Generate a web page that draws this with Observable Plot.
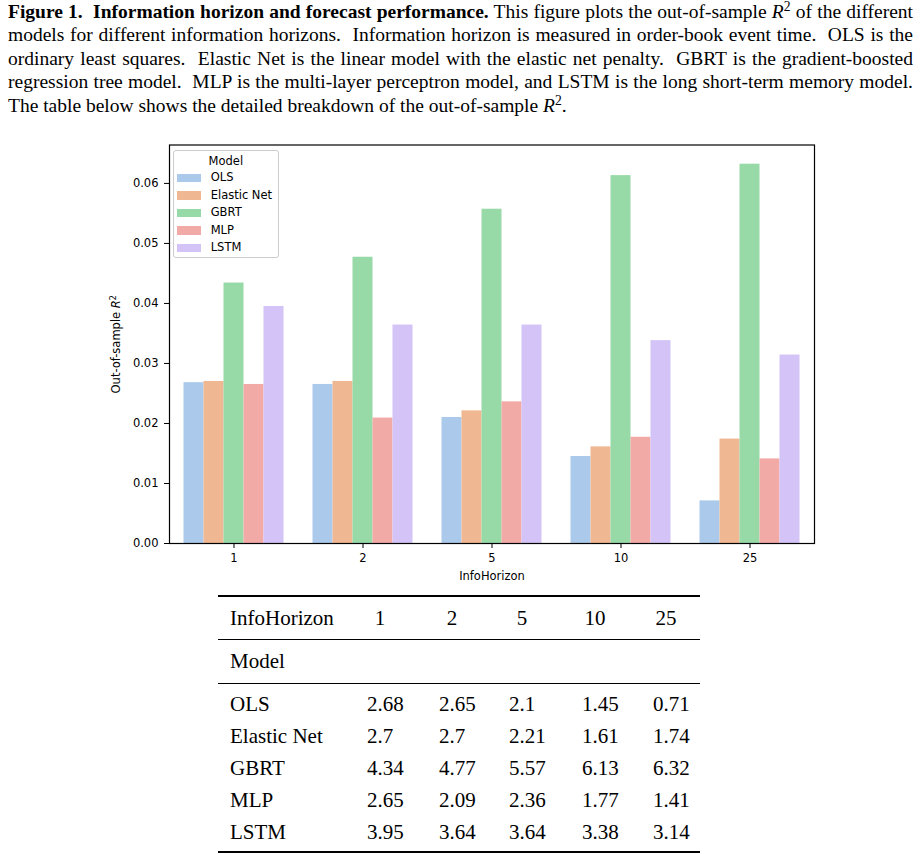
<!DOCTYPE html>
<html>
<head>
<meta charset="utf-8">
<script src="https://cdn.jsdelivr.net/npm/d3@7"></script>
<script src="https://cdn.jsdelivr.net/npm/@observablehq/plot@0.6"></script>
<style>
  html, body { margin: 0; padding: 0; background: #fff; }
  body { width: 923px; height: 854px; position: relative; overflow: hidden; color: #000; }
  #caption { position: absolute; left: 8px; top: 0px; width: 905px;
    font-family: "Liberation Serif", "Times New Roman", serif; font-size: 19.5px; line-height: 23.4px; }
  #caption .ln { text-align: justify; text-align-last: justify; white-space: normal; }
  #caption .ln.last { text-align-last: left; }
  #chart { position: absolute; left: 0; top: 130px; }
  #legend { position: absolute; left: 172.7px; top: 150px; width: 104.3px; height: 106px;
    border: 1px solid #cccccc; border-radius: 3px; background: rgba(255,255,255,0.8);
    font-family: "DejaVu Sans", sans-serif; font-size: 11.5px; }
  #legend .title { position: absolute; left: 0; width: 100%; top: 1.5px; height: 17.5px; line-height: 17.5px; text-align: center; }
  #legend .row { position: absolute; left: 0; width: 100%; height: 17.5px; line-height: 17.5px; }
  #legend .sw { position: absolute; left: 3.3px; top: 4.5px; width: 23.7px; height: 8.5px; }
  #legend .lab { position: absolute; left: 37px; top: 0; white-space: nowrap; }
  #tbl { position: absolute; left: 218px; top: 595px; width: 482px;
    font-family: "Liberation Serif", "Times New Roman", serif; font-size: 21px; }
  #tbl .rule { background: #000; width: 100%; }
  #tbl .row { display: flex; width: 100%; }
  #tbl .cell { flex: none; white-space: nowrap; }
  #tbl .hdr { display: inline-block; width: 26px; text-align: center; }
</style>
</head>
<body>
<div id="caption">
  <div class="ln"><b>Figure 1.&nbsp; Information horizon and forecast performance.</b> This figure plots the out-of-sample <i>R</i><sup style="font-size:0.7em;line-height:0;">2</sup> of the different</div>
  <div class="ln">models for different information horizons.&nbsp; Information horizon is measured in order-book event time.&nbsp; OLS is the</div>
  <div class="ln">ordinary least squares.&nbsp; Elastic Net is the linear model with the elastic net penalty.&nbsp; GBRT is the gradient-boosted</div>
  <div class="ln">regression tree model.&nbsp; MLP is the multi-layer perceptron model, and LSTM is the long short-term memory model.</div>
  <div class="ln last">The table below shows the detailed breakdown of the out-of-sample <i>R</i><sup style="font-size:0.7em;line-height:0;">2</sup>.</div>
</div>
<div id="chart"></div>
<div id="legend"></div>
<div id="tbl"></div>
<script>
// ---- Data ----
const horizons = [1, 2, 5, 10, 25];
const models = ["OLS", "Elastic Net", "GBRT", "MLP", "LSTM"];
// out-of-sample R^2 in percent
const r2OLS        = [2.68, 2.65, 2.1,  1.45, 0.71];
const r2ElasticNet = [2.7,  2.7,  2.21, 1.61, 1.74];
const r2GBRT       = [4.34, 4.77, 5.57, 6.13, 6.32];
const r2MLP        = [2.65, 2.09, 2.36, 1.77, 1.41];
const r2LSTM       = [3.95, 3.64, 3.64, 3.38, 3.14];
const modelColors  = ["#abc9ea", "#efb792", "#98daa7", "#f2aaa7", "#d3c3f6"];
const yTicks = [0, 0.01, 0.02, 0.03, 0.04, 0.05, 0.06];
const tableHeader = "InfoHorizon";
const tableIndex = "Model";

const series = [r2OLS, r2ElasticNet, r2GBRT, r2MLP, r2LSTM];
const data = models.flatMap((m, i) => horizons.map((h, j) => ({model: m, horizon: h, value: series[i][j] / 100})));

const plot = Plot.plot({
  width: 923,
  height: 463,
  marginLeft: 166.5,
  marginRight: 107.5,
  marginTop: 14.5,
  marginBottom: 50,
  style: {fontFamily: "DejaVu Sans, sans-serif", fontSize: "11.5px", color: "#000", background: "transparent", overflow: "visible"},
  fx: {domain: horizons, padding: 0, label: "InfoHorizon"},
  x: {domain: models, paddingInner: 0, paddingOuter: 0.625, axis: null},
  y: {domain: [0, 0.0664]},
  color: {domain: models, range: modelColors},
  marks: [
    Plot.barY(data, {fx: "horizon", x: "model", y: "value", fill: "model"}),
    Plot.axisY({ticks: yTicks, tickFormat: d3.format(".2f"), tickSize: 5, tickPadding: 6,
      label: "Out-of-sample R2", labelAnchor: "center", labelArrow: "none", labelOffset: 58}),
    Plot.axisFx({anchor: "bottom", tickSize: 5, tickPadding: 5,
      label: "InfoHorizon", labelAnchor: "center", labelArrow: "none", labelOffset: 36}),
    Plot.frame({facet: "super", stroke: "#000", strokeWidth: 1.2})
  ]
});
document.getElementById("chart").appendChild(plot);

// italic R with superscript 2 in the y label
plot.querySelectorAll("text").forEach(t => {
  if (t.textContent === "Out-of-sample R2") {
    t.textContent = "";
    const ns = "http://www.w3.org/2000/svg";
    const a = document.createElementNS(ns, "tspan"); a.textContent = "Out-of-sample ";
    const b = document.createElementNS(ns, "tspan"); b.textContent = "R"; b.setAttribute("font-style", "italic");
    const c = document.createElementNS(ns, "tspan"); c.textContent = "2"; c.setAttribute("dy", "-0.45em"); c.setAttribute("font-size", "0.7em");
    t.append(a, b, c);
  }
});

// ---- Legend ----
const color = plot.scale("color");
const leg = document.getElementById("legend");
const title = document.createElement("div"); title.className = "title"; title.textContent = "Model"; leg.appendChild(title);
color.domain.forEach((m, i) => {
  const row = document.createElement("div"); row.className = "row"; row.style.top = (18 + i * 17.5) + "px";
  const sw = document.createElement("div"); sw.className = "sw"; sw.style.background = color.range[i];
  const lab = document.createElement("div"); lab.className = "lab"; lab.textContent = m;
  row.append(sw, lab); leg.appendChild(row);
});

// ---- Table ----
const tbl = document.getElementById("tbl");
const colW = [149, 72, 70, 73, 71, 47];
function rule(h) { const d = document.createElement("div"); d.className = "rule"; d.style.height = h + "px"; tbl.appendChild(d); }
function spacer(h) { const d = document.createElement("div"); d.style.height = h + "px"; tbl.appendChild(d); }
function row(cells, h, header) {
  const r = document.createElement("div"); r.className = "row"; r.style.height = h + "px"; r.style.lineHeight = h + "px";
  cells.forEach((c, i) => {
    const d = document.createElement("div"); d.className = "cell"; d.style.width = colW[i] + "px";
    if (i === 0) d.style.paddingLeft = "12px", d.style.width = (colW[i] - 12) + "px";
    if (header && i > 0) { const s = document.createElement("span"); s.className = "hdr"; s.textContent = c; d.appendChild(s); }
    else d.textContent = c;
    r.appendChild(d);
  });
  tbl.appendChild(r);
}
rule(2);
row([tableHeader, ...horizons.map(String)], 42, true);
rule(1);
row([tableIndex, "", "", "", "", ""], 43, false);
rule(1);
spacer(4);
models.forEach((m, i) => row([m, ...series[i].map(String)], 32, false));
spacer(3);
rule(2);
</script>
</body>
</html>
